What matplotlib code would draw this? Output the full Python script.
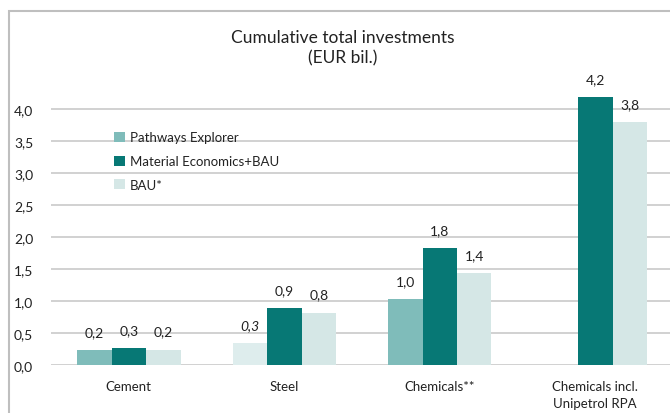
import numpy as np
import matplotlib.pyplot as plt
from matplotlib.patches import Rectangle

plt.rcParams['font.family'] = ['Lato', 'DejaVu Sans']

categories = ["Cement", "Steel", "Chemicals**", "Chemicals incl.\nUnipetrol RPA"]
pathways = [0.23, 0.34, 1.03, np.nan]
material = [0.26, 0.89, 1.83, 4.19]
bau = [0.24, 0.82, 1.43, 3.79]
lbl_pathways = ["0,2", "0,3", "1,0", ""]
lbl_material = ["0,3", "0,9", "1,8", "4,2"]
lbl_bau = ["0,2", "0,8", "1,4", "3,8"]
yticks = [0, 0.5, 1.0, 1.5, 2.0, 2.5, 3.0, 3.5, 4.0]

c_pe = "#7fbcba"
c_me = "#077875"
c_bau = "#d5e7e6"
c_pe_light = "#deeded"
txt = "#222222"

W, H = 670, 414
fig = plt.figure(figsize=(6.7, 4.14), dpi=100)

# outer frame
fig.patches.append(Rectangle((9 / W, -0.1), 1.2, 1.1 - 12 / H,
                             transform=fig.transFigure, fill=False,
                             edgecolor="#bfbfbf", lw=1.5))

ppu = 64.0  # pixels per unit
ytop = 4.6
cat_w = 155.5
ax_w = 619
ax = fig.add_axes([51 / W, 48 / H, ax_w / W, ytop * ppu / H])
ax.set_xlim(-0.5, -0.5 + ax_w / cat_w)
ax.set_ylim(0, ytop)

x = np.arange(len(categories))
bw = 34.5 / cat_w
pe_colors = [c_pe, c_pe_light, c_pe, c_pe]
ax.bar(x - bw, pathways, bw, color=pe_colors, zorder=3, label="Pathways Explorer")
ax.bar(x, material, bw, color=c_me, zorder=3, label="Material Economics+BAU")
ax.bar(x + bw, bau, bw, color=c_bau, zorder=3, label="BAU*")

off = 18 / ppu
for i in range(len(categories)):
    if not np.isnan(pathways[i]):
        ax.text(x[i] - bw, pathways[i] + off, lbl_pathways[i], ha="center", va="center",
                fontsize=10, color=txt, style="italic" if i == 1 else "normal")
    ax.text(x[i], material[i] + off, lbl_material[i], ha="center", va="center",
            fontsize=10, color=txt)
    ax.text(x[i] + bw, bau[i] + off, lbl_bau[i], ha="center", va="center",
            fontsize=10, color=txt)

ax.set_yticks(yticks)
ax.set_yticklabels([("%.1f" % v).replace(".", ",") for v in yticks], fontsize=10, color=txt)
ax.set_xticks(x)
ax.set_xticklabels(categories, fontsize=9.5, color=txt, linespacing=1.45, va="top")
ax.tick_params(axis="both", length=0)
ax.tick_params(axis="x", pad=11)
for lab in ax.get_yticklabels():
    lab.set_ha("left")
ax.yaxis.set_tick_params(pad=37 * 0.72)
ax.grid(axis="y", color="#c9c9c9", lw=1.2, zorder=0)
for s in ax.spines.values():
    s.set_visible(False)

leg = ax.legend(loc="upper left", bbox_to_anchor=(58 / ax_w, (ytop * ppu - (127 - (366 - ytop * ppu))) / (ytop * ppu)),
                frameon=False, fontsize=9.5, handlelength=0.8, handleheight=0.8,
                handletextpad=0.4, labelspacing=0.9, borderaxespad=0)
for t in leg.get_texts():
    t.set_color(txt)

fig.text(343 / W, 1 - 38 / H, "Cumulative total investments", ha="center", va="center",
         fontsize=12.5, color=txt)
fig.text(343 / W, 1 - 58 / H, "(EUR bil.)", ha="center", va="center",
         fontsize=12.5, color=txt)

fig.savefig("out.png", dpi=100)
